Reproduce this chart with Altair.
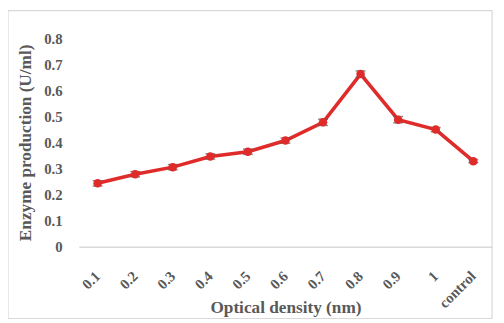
import altair as alt
import pandas as pd

categories = ["0.1", "0.2", "0.3", "0.4", "0.5", "0.6", "0.7", "0.8", "0.9", "1", "control"]
values = [0.243, 0.278, 0.305, 0.346, 0.364, 0.407, 0.477, 0.662, 0.487, 0.449, 0.328]
errors = [0.010, 0.010, 0.010, 0.010, 0.010, 0.010, 0.012, 0.012, 0.012, 0.008, 0.006]

df = pd.DataFrame({
    "od": categories,
    "val": values,
    "lo": [v - e for v, e in zip(values, errors)],
    "hi": [v + e for v, e in zip(values, errors)],
})

FONT = "Liberation Serif"
GRAY = "#595959"
RED = "#e02b2b"

x = alt.X("od:N", sort=categories, title="Optical density (nm)",
          scale=alt.Scale(paddingInner=0, paddingOuter=0),
          axis=alt.Axis(labelAngle=-45, labelAlign="right", labelBaseline="middle",
                        labelPadding=27, ticks=False, domainColor="#d9d9d9",
                        domainWidth=1.5, titleY=62, titleBaseline="middle",
                        labelFontSize=15))


def yenc(field):
    return alt.Y(field + ":Q", title="Enzyme production (U/ml)",
                 scale=alt.Scale(domain=[0, 0.8]),
                 axis=alt.Axis(values=[0, 0.1, 0.2, 0.3, 0.4, 0.5, 0.6, 0.7, 0.8],
                               format="~g", grid=False, ticks=False, domain=False,
                               labelOverlap=False, labelFontSize=15,
                               labelPadding=17, titlePadding=9))


base = alt.Chart(df)

border = alt.Chart(pd.DataFrame({"k": [0]})).mark_rect(
    fill="transparent", stroke="#d9d9d9", strokeWidth=1.2, clip=False
).encode(x=alt.value(-72), x2=alt.value(420), y=alt.value(-28), y2=alt.value(285))

line = base.mark_line(color=RED, strokeWidth=3.6).encode(x=x, y=yenc("val"))
pts = base.mark_point(color=RED, filled=True, size=75, opacity=1).encode(x=x, y=yenc("val"))
err = base.mark_rule(color=GRAY, strokeWidth=1.5).encode(x=x, y=yenc("lo"), y2="hi:Q")
cap_hi = base.mark_tick(color=GRAY, size=10, thickness=1.5, orient="horizontal").encode(x=x, y=yenc("hi"))
cap_lo = base.mark_tick(color=GRAY, size=10, thickness=1.5, orient="horizontal").encode(x=x, y=yenc("lo"))

chart = alt.layer(border, line, err, cap_hi, cap_lo, pts).properties(
    width=420, height=212,
    autosize=alt.AutoSizeParams(type="none"),
    padding={"left": 72, "top": 28, "right": 4, "bottom": 75},
).configure_view(stroke=None).configure_axis(
    labelFont=FONT, titleFont=FONT, labelFontWeight="bold", titleFontWeight="bold",
    labelColor=GRAY, titleColor=GRAY, titleFontSize=17.5,
)

chart.save("out.html", embed_options={"renderer": "svg", "actions": False})
